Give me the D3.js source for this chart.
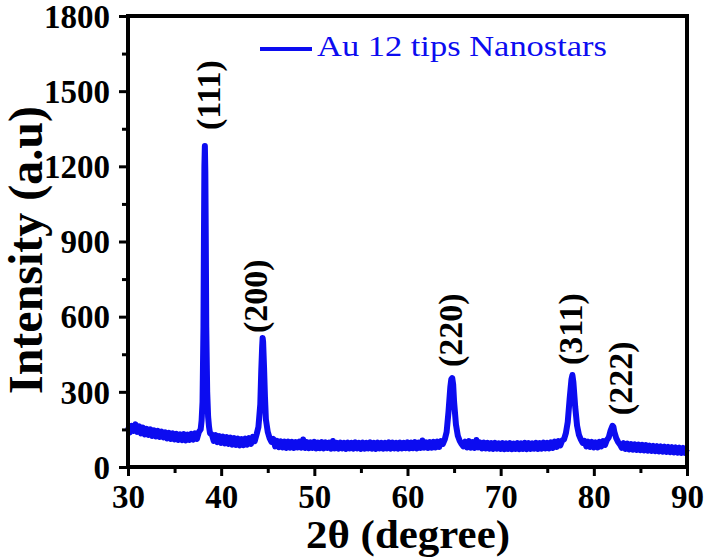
<!DOCTYPE html>
<html>
<head>
<meta charset="utf-8">
<script src="https://cdn.jsdelivr.net/npm/d3@7"></script>
<style>
  body { margin: 0; background: #fff; }
  svg text { font-family: "Liberation Serif", "Times New Roman", serif; }
</style>
</head>
<body>
<div id="chart"></div>
<script>
// XRD pattern, Au 12 tips nanostars
const seriesName = "Au 12 tips Nanostars";

// [2theta, intensity]
const pattern = [
  [30.0,160],[30.2,138],[30.4,164],[30.6,144],[30.8,170],[31.0,140],[31.2,162],[31.4,134],[31.6,157],[31.8,130],
  [32.0,152],[32.2,128],[32.4,150],[32.6,124],[32.8,146],[33.0,122],[33.2,144],[33.4,120],[33.6,141],[33.8,118],
  [34.0,138],[34.2,114],[34.4,136],[34.6,112],[34.8,134],[35.0,110],[35.2,132],[35.4,108],[35.6,130],[35.8,107],
  [36.0,131],[36.2,106],[36.4,129],[36.6,108],[36.8,132],[37.0,109],[37.2,134],[37.4,112],[37.6,139],[37.8,150],
  [37.9,185],[38.0,260],[38.1,560],[38.15,900],[38.2,1200],[38.25,1281],[38.3,1180],[38.35,900],[38.4,560],[38.5,300],
  [38.6,200],[38.7,160],[38.8,135],[39.0,130],[39.2,104],[39.4,127],[39.6,99],[39.8,123],[40.0,96],[40.2,121],
  [40.4,94],[40.6,119],[40.8,92],[41.0,117],[41.2,89],[41.4,115],[41.6,88],[41.8,113],[42.0,86],[42.2,111],
  [42.4,87],[42.6,113],[42.8,89],[43.0,115],[43.2,92],[43.4,120],[43.6,103],[43.8,130],[44.0,160],[44.2,250],
  [44.3,380],[44.4,480],[44.45,515],[44.5,500],[44.6,400],[44.7,280],[44.8,190],[45.0,140],[45.2,115],[45.4,100],
  [45.6,112],[45.8,82],[46.0,104],[46.2,79],[46.4,102],[46.6,78],[46.8,101],[47.0,76],[47.2,101],[47.4,77],
  [47.6,100],[47.8,76],[48.0,99],[48.2,78],[48.4,101],[48.6,77],[48.8,110],[49.0,76],[49.2,99],[49.4,75],
  [49.6,98],[49.8,76],[50.0,100],[50.2,74],[50.4,97],[50.6,75],[50.8,99],[51.0,74],[51.2,98],[51.4,76],
  [51.6,97],[51.8,73],[52.0,104],[52.2,74],[52.4,96],[52.6,73],[52.8,97],[53.0,74],[53.2,96],[53.4,72],
  [53.6,97],[53.8,74],[54.0,96],[54.2,73],[54.4,98],[54.6,74],[54.8,96],[55.0,72],[55.2,97],[55.4,73],
  [55.6,96],[55.8,74],[56.0,98],[56.2,73],[56.4,96],[56.6,72],[56.8,97],[57.0,74],[57.2,96],[57.4,73],
  [57.6,96],[57.8,74],[58.0,98],[58.2,73],[58.4,97],[58.6,74],[58.8,96],[59.0,73],[59.2,97],[59.4,74],
  [59.6,96],[59.8,75],[60.0,98],[60.2,74],[60.4,97],[60.6,75],[60.8,99],[61.0,74],[61.2,97],[61.4,76],
  [61.6,106],[61.8,77],[62.0,98],[62.2,76],[62.4,99],[62.6,77],[62.8,100],[63.0,78],[63.2,101],[63.4,80],
  [63.6,103],[63.8,92],[64.0,110],[64.2,140],[64.4,220],[64.6,320],[64.7,350],[64.8,355],[64.9,330],[65.0,260],
  [65.2,170],[65.4,125],[65.6,105],[65.8,92],[66.0,82],[66.2,101],[66.4,78],[66.6,103],[66.8,77],[67.0,99],
  [67.2,76],[67.4,108],[67.6,78],[67.8,98],[68.0,74],[68.2,97],[68.4,74],[68.6,96],[68.8,73],[69.0,95],
  [69.2,72],[69.4,96],[69.6,73],[69.8,94],[70.0,72],[70.2,95],[70.4,71],[70.6,94],[70.8,72],[71.0,95],
  [71.2,71],[71.4,93],[71.6,72],[71.8,95],[72.0,71],[72.2,94],[72.4,72],[72.6,96],[72.8,71],[73.0,95],
  [73.2,72],[73.4,94],[73.6,73],[73.8,96],[74.0,72],[74.2,95],[74.4,73],[74.6,97],[74.8,74],[75.0,96],
  [75.2,74],[75.4,98],[75.6,76],[75.8,101],[76.0,80],[76.2,103],[76.4,86],[76.6,106],[76.8,110],[77.0,135],
  [77.2,180],[77.4,270],[77.6,350],[77.7,367],[77.8,340],[78.0,240],[78.2,165],[78.4,128],[78.6,110],[78.8,96],
  [79.0,104],[79.2,82],[79.4,101],[79.6,80],[79.8,100],[80.0,78],[80.2,98],[80.4,78],[80.6,100],[80.8,82],
  [81.0,103],[81.2,88],[81.4,108],[81.6,118],[81.8,145],[82.0,164],[82.1,160],[82.2,140],[82.4,115],[82.6,100],
  [82.8,90],[83.0,76],[83.2,95],[83.4,72],[83.6,93],[83.8,70],[84.0,91],[84.2,69],[84.4,90],[84.6,68],
  [84.8,89],[85.0,67],[85.2,88],[85.4,66],[85.6,87],[85.8,65],[86.0,85],[86.2,64],[86.4,84],[86.6,63],
  [86.8,83],[87.0,62],[87.2,82],[87.4,61],[87.6,81],[87.8,60],[88.0,80],[88.2,59],[88.4,79],[88.6,58],
  [88.8,78],[89.0,57],[89.2,77],[89.4,56],[89.6,76],[89.8,56],[90.0,72]
];

// peak labels: hkl, 2theta of the label baseline, intensity where the label starts
const peakNames = ["(111)", "(200)", "(220)", "(311)", "(222)"];
const peakPos = [39.9, 44.9, 65.85, 78.7, 84.1];
const peakLabelAt = [1345, 535, 399, 407, 207];

const xTicks = [30, 40, 50, 60, 70, 80, 90];
const xMinor = [35, 45, 55, 65, 75, 85];
const yTicks = [0, 300, 600, 900, 1200, 1500, 1800];
const yMinor = [150, 450, 750, 1050, 1350, 1650];

const W = 704, H = 557;
const margin = {left: 128, right: 17, top: 16, bottom: 90};
const blue = "#0c0cf0";

const svg = d3.select("#chart").append("svg")
    .attr("width", W)
    .attr("height", H);

const x = d3.scaleLinear().domain([30, 90]).range([margin.left, W - margin.right]);
const y = d3.scaleLinear().domain([0, 1800]).range([H - margin.bottom, margin.top]);

// data line
const line = d3.line()
    .x(d => x(d[0]))
    .y(d => y(d[1]));

svg.append("path")
    .datum(pattern)
    .attr("fill", "none")
    .attr("stroke", blue)
    .attr("stroke-width", 6)
    .attr("stroke-linejoin", "round")
    .attr("d", line);

// axes
const xAxis = svg.append("g")
    .attr("transform", `translate(0,${y(0)})`)
    .call(d3.axisBottom(x).tickValues(xTicks).tickSize(9).tickFormat(d3.format("d")));
svg.append("g")
    .attr("transform", `translate(0,${y(0)})`)
    .call(d3.axisBottom(x).tickValues(xMinor).tickSize(6).tickFormat(""));

const yAxis = svg.append("g")
    .attr("transform", `translate(${x(30)},0)`)
    .call(d3.axisLeft(y).tickValues(yTicks).tickSize(9).tickPadding(9).tickFormat(d3.format("d")));
svg.append("g")
    .attr("transform", `translate(${x(30)},0)`)
    .call(d3.axisLeft(y).tickValues(yMinor).tickSize(6).tickFormat(""));

svg.selectAll(".domain").remove();
svg.selectAll(".tick line").attr("stroke", "#000").attr("stroke-width", 3);

xAxis.selectAll("text")
    .attr("y", 41)
    .attr("dy", 0)
    .attr("fill", "#000")
    .style("font-size", "33px")
    .style("font-weight", "bold");

yAxis.selectAll("text")
    .attr("dy", "0.34em")
    .attr("fill", "#000")
    .style("font-size", "33px")
    .style("font-weight", "bold");

// frame
svg.append("rect")
    .attr("x", x(30))
    .attr("y", y(1800))
    .attr("width", x(90) - x(30))
    .attr("height", y(0) - y(1800))
    .attr("fill", "none")
    .attr("stroke", "#000")
    .attr("stroke-width", 4);

// axis titles
svg.append("text")
    .attr("x", 408)
    .attr("y", 548)
    .attr("text-anchor", "middle")
    .attr("textLength", 204)
    .attr("lengthAdjust", "spacingAndGlyphs")
    .style("font-size", "39px")
    .style("font-weight", "bold")
    .text("2θ (degree)");

svg.append("text")
    .attr("transform", "translate(42,250) rotate(-90)")
    .attr("text-anchor", "middle")
    .style("font-size", "48px")
    .style("font-weight", "bold")
    .text("Intensity (a.u)");

// peak labels
svg.append("g").selectAll("text")
    .data(peakNames)
    .enter()
    .append("text")
    .attr("transform", (d, i) => `translate(${x(peakPos[i])},${y(peakLabelAt[i])}) rotate(-90)`)
    .attr("text-anchor", "start")
    .style("font-size", "34px")
    .style("font-weight", "bold")
    .text(d => d);

// legend
const legend = svg.append("g");
legend.append("line")
    .attr("x1", 260).attr("x2", 312)
    .attr("y1", 49).attr("y2", 49)
    .attr("stroke", blue)
    .attr("stroke-width", 4);
legend.append("text")
    .attr("x", 317)
    .attr("y", 56)
    .attr("fill", blue)
    .attr("textLength", 290)
    .attr("lengthAdjust", "spacingAndGlyphs")
    .style("font-size", "30px")
    .text(seriesName);
</script>
</body>
</html>
